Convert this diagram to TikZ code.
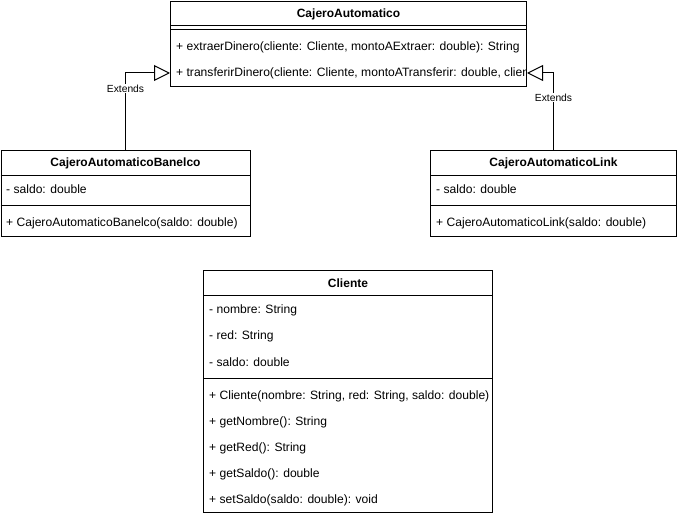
\documentclass[tikz,border=0pt]{standalone}
\usepackage{fontspec}
\setmainfont{Liberation Sans}
\usetikzlibrary{arrows.meta, positioning}

\tikzset{
    umlclass/.style={draw, rectangle, line width=1pt, inner sep=0pt, anchor=north west},
    member/.style={anchor=west, inner sep=0pt, font=\fontsize{12.1}{14}\selectfont},
    classname/.style={inner sep=0pt, font=\fontsize{12}{14}\selectfont\bfseries},
    compline/.style={line width=1pt},
    extends/.style={line width=1pt, -{Triangle[open, length=16pt, width=16pt, line width=1pt]}},
    extlabel/.style={fill=white, inner sep=1pt, font=\fontsize{10.3}{12}\selectfont},
}

\begin{document}
\begin{tikzpicture}[x=1pt, y=-1pt]
    \useasboundingbox (0,0) rectangle (681,516);

    % CajeroAutomatico
    \node[umlclass, minimum width=356pt, minimum height=85pt] (ca) at (170,1) {};
    \node[classname] (ca_name) at ([yshift=-13pt]ca.north) {CajeroAutomatico};
    \draw[compline] ([yshift=-25pt]ca.north west) -- ([yshift=-25pt]ca.north east);
    \draw[compline] ([yshift=-29pt]ca.north west) -- ([yshift=-29pt]ca.north east);
    \node[member] (ca_m1) at (176,47) {+ extraerDinero(cliente: Cliente, montoAExtraer: double): String};
    \begin{scope}
        \clip (ca.north west) rectangle ([xshift=-2pt]ca.south east);
        \node[member] (ca_m2) at (176,73) {+ transferirDinero(cliente: Cliente, montoATransferir: double, cliente2: Cliente): String};
    \end{scope}

    % CajeroAutomaticoBanelco
    \node[umlclass, minimum width=249pt, minimum height=86pt] (cb) at (0.5,150) {};
    \node[classname] (cb_name) at ([yshift=-13pt]cb.north) {CajeroAutomaticoBanelco};
    \draw[compline] ([yshift=-26pt]cb.north west) -- ([yshift=-26pt]cb.north east);
    \node[member] (cb_a1) at (6,189) {- saldo: double};
    \draw[compline] ([yshift=-56pt]cb.north west) -- ([yshift=-56pt]cb.north east);
    \node[member] (cb_m1) at (6,223) {+ CajeroAutomaticoBanelco(saldo: double)};

    % CajeroAutomaticoLink
    \node[umlclass, minimum width=246pt, minimum height=86pt] (cl) at (430,150) {};
    \node[classname] (cl_name) at ([yshift=-13pt]cl.north) {CajeroAutomaticoLink};
    \draw[compline] ([yshift=-26pt]cl.north west) -- ([yshift=-26pt]cl.north east);
    \node[member] (cl_a1) at (436,189) {- saldo: double};
    \draw[compline] ([yshift=-56pt]cl.north west) -- ([yshift=-56pt]cl.north east);
    \node[member] (cl_m1) at (436,223) {+ CajeroAutomaticoLink(saldo: double)};

    % Cliente
    \node[umlclass, minimum width=289pt, minimum height=242pt] (cc) at (203,270) {};
    \node[classname] (cc_name) at ([yshift=-13pt]cc.north) {Cliente};
    \draw[compline] ([yshift=-26pt]cc.north west) -- ([yshift=-26pt]cc.north east);
    \foreach \txt [count=\i] in {{- nombre: String}, {- red: String}, {- saldo: double}}
        \node[member] (cc_a\i) at (209,284+26*\i) {\txt};
    \draw[compline] ([yshift=-108pt]cc.north west) -- ([yshift=-108pt]cc.north east);
    \foreach \txt [count=\i] in {{+ Cliente(nombre: String, red: String, saldo: double)},
        {+ getNombre(): String}, {+ getRed(): String}, {+ getSaldo(): double},
        {+ setSaldo(saldo: double): void}}
        \node[member] (cc_m\i) at (209,370+26*\i) {\txt};

    % herencia
    \draw[extends] (cb.north) |- node[extlabel, pos=0.4] {Extends} ([yshift=14pt]ca.south west);
    \draw[extends] (cl.north) |- node[extlabel, pos=0.34] {Extends} ([yshift=14pt]ca.south east);
\end{tikzpicture}
\end{document}
